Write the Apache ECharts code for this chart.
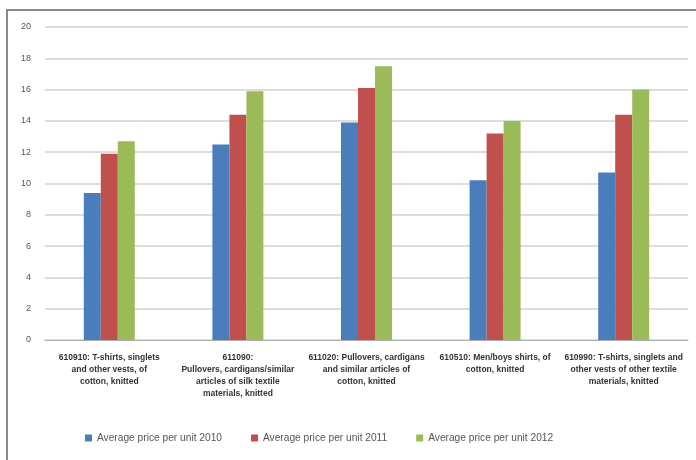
<!DOCTYPE html>
<html>
<head>
<meta charset="utf-8">
<script src="https://cdn.jsdelivr.net/npm/echarts@6/dist/echarts.min.js"></script>
<style>
  html, body { margin: 0; padding: 0; background: #fff; }
  #chart { width: 696px; height: 460px; }
</style>
</head>
<body>
<div id="chart"></div>
<script>
// product categories (x axis)
const categories = [
  "610910: T-shirts, singlets\nand other vests, of\ncotton, knitted",
  "611090:\nPullovers, cardigans/similar\narticles of silk textile\nmaterials, knitted",
  "611020: Pullovers, cardigans\nand similar articles of\ncotton, knitted",
  "610510: Men/boys shirts, of\ncotton, knitted",
  "610990: T-shirts, singlets and\nother vests of other textile\nmaterials, knitted"
];

const seriesNames = [
  "Average price per unit 2010",
  "Average price per unit 2011",
  "Average price per unit 2012"
];

// average unit prices
const price2010 = [9.4, 12.5, 13.9, 10.2, 10.7];
const price2011 = [11.9, 14.4, 16.1, 13.2, 14.4];
const price2012 = [12.7, 15.9, 17.5, 14.0, 16.0];

const yTicks = [0, 2, 4, 6, 8, 10, 12, 14, 16, 18, 20];

const colors = ["#4a7ebb", "#c0504d", "#9bbb59"];

const chart = echarts.init(document.getElementById("chart"));

const seriesData = [price2010, price2011, price2012];

const option = {
  backgroundColor: "#fff",
  animation: false,
  color: colors,
  graphic: [
    {
      type: "rect",
      shape: { x: 7, y: 10, width: 720, height: 480 },
      style: { fill: "none", stroke: "#8a8a8a", lineWidth: 2 },
      z: 0
    }
  ],
  legend: {
    bottom: 12,
    left: 80,
    itemWidth: 7,
    itemHeight: 7,
    itemGap: 29,
    icon: "rect",
    textStyle: { color: "#555", fontSize: 10.2, fontFamily: "Liberation Sans" },
    data: seriesNames
  },
  grid: {
    left: 45,
    right: 8,
    top: 27,
    bottom: 120
  },
  xAxis: {
    type: "category",
    data: categories,
    axisLine: { lineStyle: { color: "#b0b0b0" } },
    axisTick: { show: false },
    axisLabel: {
      interval: 0,
      color: "#333",
      fontSize: 8.5,
      fontWeight: "bold",
      lineHeight: 12,
      margin: 12,
      fontFamily: "Liberation Sans"
    }
  },
  yAxis: {
    type: "value",
    min: yTicks[0],
    max: yTicks[yTicks.length - 1],
    interval: yTicks[1] - yTicks[0],
    axisLine: { show: false },
    axisTick: { show: false },
    axisLabel: {
      color: "#555",
      fontSize: 9,
      margin: 14,
      fontFamily: "Liberation Sans"
    },
    splitLine: { lineStyle: { color: "#d9d0cc", width: 1.5 } }
  },
  series: seriesData.map((vals, i) => ({
    name: seriesNames[i],
    type: "bar",
    data: vals,
    barWidth: 17,
    barGap: "0%",
    itemStyle: { color: colors[i] }
  }))
};

chart.setOption(option);
</script>
</body>
</html>
